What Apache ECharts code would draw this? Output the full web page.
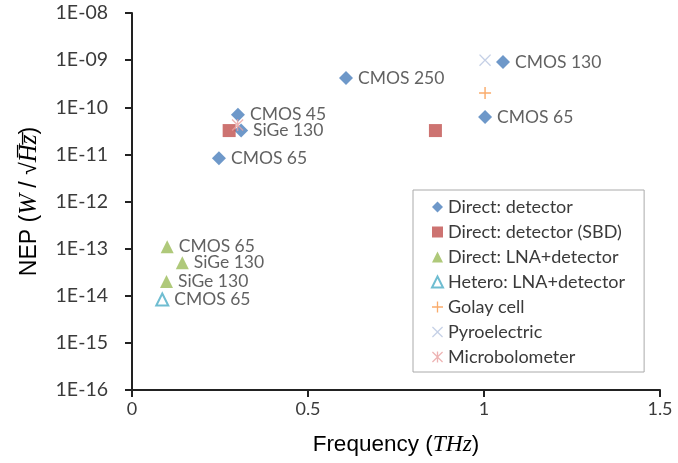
<!DOCTYPE html>
<html><head><meta charset="utf-8">
<script src="https://cdn.jsdelivr.net/npm/echarts@6/dist/echarts.min.js"></script>
<style>html,body{margin:0;padding:0;background:#fff}#c{width:678px;height:463px}</style>
</head><body><div id="c"></div>
<script>
// Direct: detector
const detX = [1.054, 0.608, 0.301, 0.31, 0.247, 1.003];
const detY = [9.1e-10, 4.2e-10, 6.9e-11, 3.2e-11, 8.3e-12, 6.2e-11];
const detN = ['CMOS 130', 'CMOS 250', 'CMOS 45', 'SiGe 130', 'CMOS 65', 'CMOS 65'];
// Direct: detector (SBD)
const sbdX = [0.276, 0.862];
const sbdY = [3.2e-11, 3.2e-11];
// Direct: LNA+detector
const lnaX = [0.10, 0.143, 0.098];
const lnaY = [1.1e-13, 5.0e-14, 2.0e-14];
const lnaN = ['CMOS 65', 'SiGe 130', 'SiGe 130'];
// Hetero: LNA+detector
const hetX = [0.086];
const hetY = [8.3e-15];
const hetN = ['CMOS 65'];
// Golay cell
const golX = [1.003];
const golY = [2.0e-10];
// Pyroelectric
const pyrX = [1.003];
const pyrY = [1.0e-9];
// Microbolometer
const micX = [0.30];
const micY = [4.2e-11];

const xTicks = [0, 0.5, 1, 1.5];

const PLUS = 'path://M4.4,0h1.2v10h-1.2z M0,4.4h10v1.2h-10z';
const CROSS = 'path://M0.8,0 L5,4.2 L9.2,0 L10,0.8 L5.8,5 L10,9.2 L9.2,10 L5,5.8 L0.8,10 L0,9.2 L4.2,5 L0,0.8z';
const STAR = 'path://M0.8,0 L5,4.2 L9.2,0 L10,0.8 L5.8,5 L10,9.2 L9.2,10 L5,5.8 L0.8,10 L0,9.2 L4.2,5 L0,0.8z M4.4,0h1.2v10h-1.2z';

function pts(xs, ys, ns) {
  return xs.map((x, i) => ({ value: [x, ys[i]], name: ns ? ns[i] : '' }));
}
const lbl = { show: true, position: 'right', distance: 5, formatter: '{b}', color: '#3a3a3a', fontFamily: 'Lato', fontSize: 17.5 };
const noLbl = { show: false };

const chart = echarts.init(document.getElementById('c'), null, { renderer: 'canvas' });
chart.setOption({
  animation: false,
  backgroundColor: '#fff',
  grid: { left: 132, right: 18, top: 13, bottom: 73, containLabel: false },
  xAxis: {
    type: 'value', min: 0, max: 1.5, interval: 0.5,
    axisLine: { show: true, onZero: false, lineStyle: { color: '#222', width: 2 } },
    axisTick: { show: true, length: 7, lineStyle: { color: '#222', width: 2 } },
    splitLine: { show: false },
    axisLabel: { margin: 10, color: '#3a3a3a', fontFamily: 'Lato', fontSize: 18,
      formatter: v => { const t = xTicks.find(t => Math.abs(t - v) < 1e-9); return t === undefined ? '' : String(t); } },
    name: '{a|Frequency (}{i|THz}{a|)}', nameLocation: 'middle', nameGap: 43,
    nameTextStyle: { rich: {
      a: { fontFamily: 'Liberation Sans', fontSize: 22.5, color: '#000' },
      i: { fontFamily: 'Liberation Serif', fontStyle: 'italic', fontSize: 23.5, color: '#000' } } }
  },
  yAxis: {
    type: 'log', logBase: 10, min: 1e-16, max: 1e-8, interval: 1,
    axisLine: { show: true, onZero: false, lineStyle: { color: '#222', width: 2 } },
    axisTick: { show: true, length: 7, lineStyle: { color: '#222', width: 2 } },
    minorTick: { show: false },
    splitLine: { show: false },
    axisLabel: { margin: 24, color: '#3a3a3a', fontFamily: 'Lato', fontSize: 19.5,
      formatter: v => { const e = Math.round(Math.log10(v)); return '1E-' + String(-e).padStart(2, '0'); } },
    name: '{a|NEP (}{i|W}{a| / √}{i|H̅z̅}{a|)}', nameLocation: 'middle', nameGap: 90, nameRotate: 90,
    nameTextStyle: { rich: {
      a: { fontFamily: 'Liberation Sans', fontSize: 23, color: '#000' },
      i: { fontFamily: 'Liberation Serif', fontStyle: 'italic', fontSize: 25, color: '#000' } } }
  },
  legend: {
    orient: 'vertical', left: 413, top: 190,
    padding: [8, 19, 6, 18], itemGap: 7, itemWidth: 11, itemHeight: 11,
    borderColor: '#aaa', borderWidth: 1,
    textStyle: { color: '#3a3a3a', fontFamily: 'Lato', fontSize: 18 },
    data: ['Direct: detector', 'Direct: detector (SBD)', 'Direct: LNA+detector', 'Hetero: LNA+detector', 'Golay cell', 'Pyroelectric', 'Microbolometer']
  },
  series: [
    { name: 'Direct: detector', type: 'scatter', symbol: 'diamond', symbolSize: 14,
      itemStyle: { color: '#4a7ebb' }, label: lbl, data: pts(detX, detY, detN) },
    { name: 'Direct: detector (SBD)', type: 'scatter', symbol: 'rect', symbolSize: 13,
      itemStyle: { color: '#c0504d' }, label: noLbl, data: pts(sbdX, sbdY) },
    { name: 'Direct: LNA+detector', type: 'scatter', symbol: 'triangle', symbolSize: 13,
      itemStyle: { color: '#9bbb59' }, label: lbl, data: pts(lnaX, lnaY, lnaN) },
    { name: 'Hetero: LNA+detector', type: 'scatter', symbol: 'emptyTriangle', symbolSize: 12,
      itemStyle: { color: '#4bacc6', borderColor: '#4bacc6', borderWidth: 1.5 }, label: lbl, data: pts(hetX, hetY, hetN) },
    { name: 'Golay cell', type: 'scatter', symbol: PLUS, symbolSize: 12,
      itemStyle: { color: '#f79646' }, label: noLbl, data: pts(golX, golY) },
    { name: 'Pyroelectric', type: 'scatter', symbol: CROSS, symbolSize: 12,
      itemStyle: { color: '#b6c4e0' }, label: noLbl, data: pts(pyrX, pyrY) },
    { name: 'Microbolometer', type: 'scatter', symbol: STAR, symbolSize: 12,
      itemStyle: { color: '#e8a0a0' }, label: noLbl, data: pts(micX, micY) }
  ]
});
</script></body></html>
